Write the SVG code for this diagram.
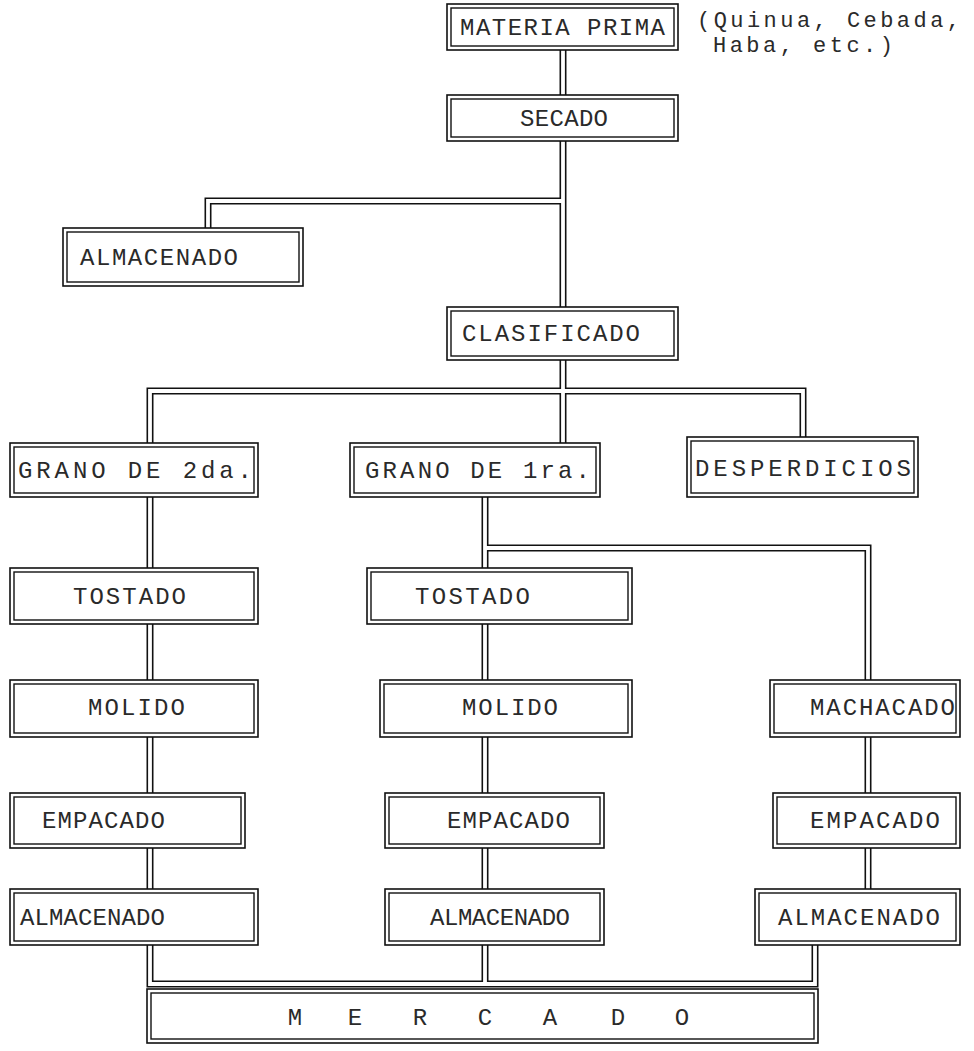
<svg xmlns="http://www.w3.org/2000/svg" width="974" height="1051" viewBox="0 0 974 1051">
<style>
.bg{fill:#fff}
.o{fill:#fff;stroke:#111;stroke-width:1.6}
.i{fill:none;stroke:#111;stroke-width:1.4}
.cb{fill:none;stroke:#111;stroke-width:7;stroke-linejoin:miter}
.cw{fill:none;stroke:#fff;stroke-width:3.8;stroke-linejoin:miter}
text{font-family:"Liberation Mono","Courier New",monospace;font-size:24px;fill:#2a2a2a}
.n{font-size:22px}
</style>
<rect class="bg" x="0" y="0" width="974" height="1051"/>
<g id="connectors">
<g class="cb">
<path d="M563,50V95"/>
<path d="M563,141V307"/>
<path d="M563,201H208V228"/>
<path d="M563,360V443"/>
<path d="M150,443V391H803V437"/>
<path d="M150,497V568M150,624V680M150,737V793M150,848V889"/>
<path d="M485,497V568M485,548H868V680M485,624V680M485,737V793M485,848V889"/>
<path d="M868,737V793M868,848V889"/>
<path d="M150,945V984H815V945M485,945V984"/>
</g>
<g class="cw">
<path d="M563,48V97"/>
<path d="M563,139V309"/>
<path d="M563,201H208V230"/>
<path d="M563,358V445"/>
<path d="M150,445V391H803V439"/>
<path d="M150,495V570M150,622V682M150,735V795M150,846V891"/>
<path d="M485,495V570M485,548H868V682M485,622V682M485,735V795M485,846V891"/>
<path d="M868,735V795M868,846V891"/>
<path d="M150,943V984H815V943M485,943V984"/>
</g>
</g>
<g id="materia_prima"><rect class="o" x="447" y="4" width="231" height="46"/><rect class="i" x="451" y="8" width="223" height="38"/><text x="460" y="35" textLength="205">MATERIA PRIMA</text></g>
<g id="nota"><text class="n" x="697" y="27" textLength="263">(Quinua, Cebada,</text><text class="n" x="713" y="52" textLength="180">Haba, etc.)</text></g>
<g id="secado"><rect class="o" x="447" y="95" width="231" height="46"/><rect class="i" x="451" y="99" width="223" height="38"/><text x="520" y="126" textLength="88">SECADO</text></g>
<g id="almacenado0"><rect class="o" x="63" y="228" width="240" height="58"/><rect class="i" x="67" y="232" width="232" height="50"/><text x="80" y="265" textLength="158">ALMACENADO</text></g>
<g id="clasificado"><rect class="o" x="447" y="307" width="231" height="53"/><rect class="i" x="451" y="311" width="223" height="45"/><text x="462" y="341" textLength="178">CLASIFICADO</text></g>
<g id="grano2"><rect class="o" x="10" y="443" width="248" height="54"/><rect class="i" x="14" y="447" width="240" height="46"/><text x="18" y="478" textLength="234">GRANO DE 2da.</text></g>
<g id="grano1"><rect class="o" x="350" y="443" width="250" height="54"/><rect class="i" x="354" y="447" width="242" height="46"/><text x="365" y="478" textLength="225">GRANO DE 1ra.</text></g>
<g id="desperdicios"><rect class="o" x="687" y="437" width="231" height="60"/><rect class="i" x="691" y="441" width="223" height="52"/><text x="695" y="476" textLength="216">DESPERDICIOS</text></g>
<g id="tostado1"><rect class="o" x="10" y="568" width="248" height="56"/><rect class="i" x="14" y="572" width="240" height="48"/><text x="73" y="604" textLength="113">TOSTADO</text></g>
<g id="tostado2"><rect class="o" x="367" y="568" width="265" height="56"/><rect class="i" x="371" y="572" width="257" height="48"/><text x="415" y="604" textLength="115">TOSTADO</text></g>
<g id="molido1"><rect class="o" x="10" y="680" width="248" height="57"/><rect class="i" x="14" y="684" width="240" height="49"/><text x="88" y="715" textLength="97">MOLIDO</text></g>
<g id="molido2"><rect class="o" x="380" y="680" width="252" height="57"/><rect class="i" x="384" y="684" width="244" height="49"/><text x="462" y="715" textLength="96">MOLIDO</text></g>
<g id="machacado"><rect class="o" x="770" y="680" width="190" height="57"/><rect class="i" x="774" y="684" width="182" height="49"/><text x="810" y="715" textLength="145">MACHACADO</text></g>
<g id="empacado1"><rect class="o" x="10" y="793" width="235" height="55"/><rect class="i" x="14" y="797" width="227" height="47"/><text x="42" y="828" textLength="123">EMPACADO</text></g>
<g id="empacado2"><rect class="o" x="385" y="793" width="219" height="55"/><rect class="i" x="389" y="797" width="211" height="47"/><text x="447" y="828" textLength="123">EMPACADO</text></g>
<g id="empacado3"><rect class="o" x="773" y="793" width="187" height="55"/><rect class="i" x="777" y="797" width="179" height="47"/><text x="810" y="828" textLength="130">EMPACADO</text></g>
<g id="almacenado1"><rect class="o" x="10" y="889" width="248" height="56"/><rect class="i" x="14" y="893" width="240" height="48"/><text x="20" y="925" textLength="145">ALMACENADO</text></g>
<g id="almacenado2"><rect class="o" x="385" y="889" width="219" height="56"/><rect class="i" x="389" y="893" width="211" height="48"/><text x="430" y="925" textLength="140">ALMACENADO</text></g>
<g id="almacenado3"><rect class="o" x="755" y="889" width="205" height="56"/><rect class="i" x="759" y="893" width="197" height="48"/><text x="778" y="925" textLength="162">ALMACENADO</text></g>
<g id="mercado"><rect class="o" x="147" y="989" width="671" height="54"/><rect class="i" x="151" y="993" width="663" height="46"/><text y="1025" text-anchor="middle"><tspan x="295">M</tspan><tspan x="355">E</tspan><tspan x="420">R</tspan><tspan x="485">C</tspan><tspan x="550">A</tspan><tspan x="618">D</tspan><tspan x="682">O</tspan></text></g>
</svg>
